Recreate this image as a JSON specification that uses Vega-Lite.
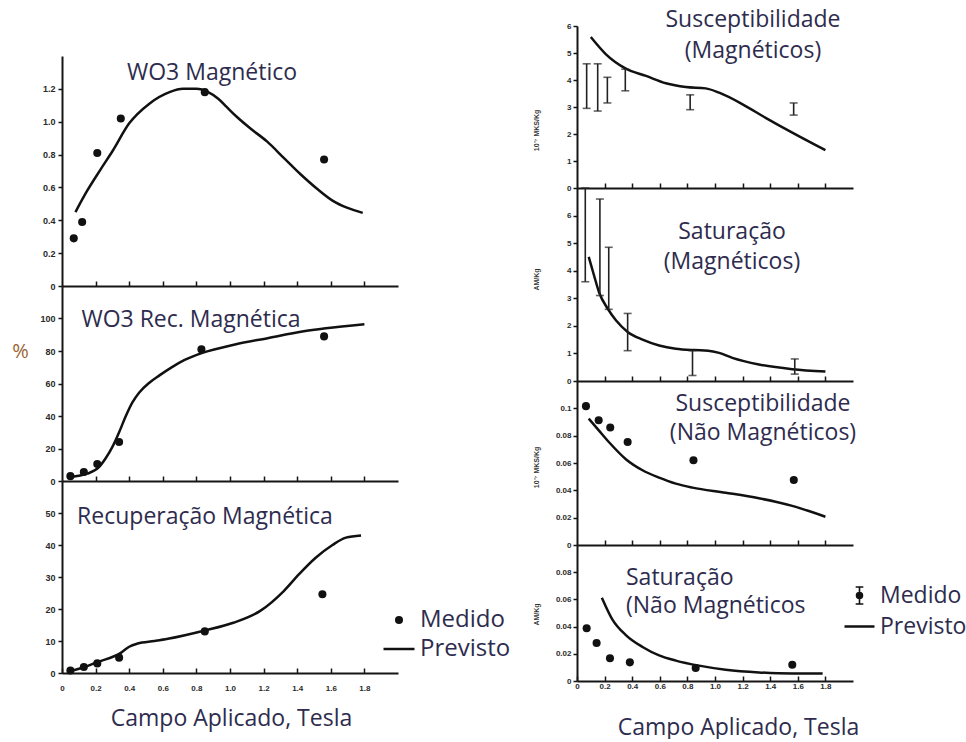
{
  "$schema": "https://vega.github.io/schema/vega-lite/v6.json",
  "background": "white",
  "padding": {"left": 11, "top": 9, "right": 0, "bottom": 0},
  "config": {
    "view": {"stroke": null},
    "font": "Open Sans",
    "axis": {
      "grid": false, "domainColor": "#151515", "domainWidth": 2,
      "tickColor": "#151515", "tickWidth": 1.5, "tickCount": 20,
      "labelFont": "Liberation Sans", "labelFontWeight": "bold", "labelColor": "#2a2a2a",
      "labelFlush": false, "labelOverlap": false,
      "titleFont": "Open Sans", "titleFontWeight": "normal", "titleColor": "#2e2c4e"
    },
    "title": {"font": "Open Sans", "fontSize": 23, "fontWeight": "normal", "color": "#2e2c4e", "offset": 0, "baseline": "top", "frame": "group"}
  },
  "datasets": {
    "l1_med": [
      {"campo": 0.07, "valor": 0.29}, {"campo": 0.12, "valor": 0.39}, {"campo": 0.21, "valor": 0.81},
      {"campo": 0.35, "valor": 1.02}, {"campo": 0.85, "valor": 1.18}, {"campo": 1.56, "valor": 0.77}
    ],
    "l1_prev": [
      {"campo": 0.08, "valor": 0.45}, {"campo": 0.15, "valor": 0.58}, {"campo": 0.23, "valor": 0.71},
      {"campo": 0.3, "valor": 0.82}, {"campo": 0.4, "valor": 0.99}, {"campo": 0.52, "valor": 1.11},
      {"campo": 0.64, "valor": 1.18}, {"campo": 0.72, "valor": 1.2}, {"campo": 0.8, "valor": 1.2},
      {"campo": 0.87, "valor": 1.18}, {"campo": 0.93, "valor": 1.14}, {"campo": 0.98, "valor": 1.09},
      {"campo": 1.04, "valor": 1.03}, {"campo": 1.12, "valor": 0.96}, {"campo": 1.22, "valor": 0.88},
      {"campo": 1.32, "valor": 0.78}, {"campo": 1.42, "valor": 0.68}, {"campo": 1.52, "valor": 0.59},
      {"campo": 1.61, "valor": 0.52}, {"campo": 1.7, "valor": 0.475}, {"campo": 1.79, "valor": 0.445}
    ],
    "l2_med": [
      {"campo": 0.05, "valor": 3}, {"campo": 0.13, "valor": 5.5}, {"campo": 0.21, "valor": 10.5},
      {"campo": 0.34, "valor": 24}, {"campo": 0.83, "valor": 81}, {"campo": 1.56, "valor": 89}
    ],
    "l2_prev": [
      {"campo": 0.05, "valor": 2.5}, {"campo": 0.15, "valor": 4.5}, {"campo": 0.22, "valor": 8.5},
      {"campo": 0.26, "valor": 14}, {"campo": 0.3, "valor": 21}, {"campo": 0.34, "valor": 30},
      {"campo": 0.38, "valor": 40}, {"campo": 0.42, "valor": 48.5}, {"campo": 0.46, "valor": 54.5},
      {"campo": 0.52, "valor": 60.5}, {"campo": 0.58, "valor": 65}, {"campo": 0.65, "valor": 69.8},
      {"campo": 0.73, "valor": 74.5}, {"campo": 0.84, "valor": 79}, {"campo": 1.03, "valor": 84},
      {"campo": 1.23, "valor": 88}, {"campo": 1.43, "valor": 92}, {"campo": 1.57, "valor": 94},
      {"campo": 1.8, "valor": 96.5}
    ],
    "l3_med": [
      {"campo": 0.05, "valor": 0.8, "serie": "Medido"}, {"campo": 0.13, "valor": 1.9, "serie": "Medido"},
      {"campo": 0.21, "valor": 3.0, "serie": "Medido"}, {"campo": 0.34, "valor": 4.8, "serie": "Medido"},
      {"campo": 0.85, "valor": 13, "serie": "Medido"}, {"campo": 1.55, "valor": 24.6, "serie": "Medido"}
    ],
    "l3_prev": [
      {"campo": 0.05, "valor": 0.6}, {"campo": 0.13, "valor": 1.8}, {"campo": 0.21, "valor": 3.4},
      {"campo": 0.35, "valor": 6.3}, {"campo": 0.4, "valor": 8.2}, {"campo": 0.45, "valor": 9.2},
      {"campo": 0.55, "valor": 10.0}, {"campo": 0.63, "valor": 10.7}, {"campo": 0.85, "valor": 13.3},
      {"campo": 1.02, "valor": 15.7}, {"campo": 1.18, "valor": 19.4}, {"campo": 1.32, "valor": 25.6},
      {"campo": 1.41, "valor": 30.8}, {"campo": 1.51, "valor": 36}, {"campo": 1.61, "valor": 40},
      {"campo": 1.69, "valor": 42.3}, {"campo": 1.78, "valor": 43}
    ],
    "r1_med": [
      {"campo": 0.07, "min": 2.95, "max": 4.6}, {"campo": 0.15, "min": 2.85, "max": 4.6},
      {"campo": 0.22, "min": 3.15, "max": 4.1}, {"campo": 0.35, "min": 3.6, "max": 4.4},
      {"campo": 0.82, "min": 2.9, "max": 3.45}, {"campo": 1.57, "min": 2.7, "max": 3.15}
    ],
    "r1_prev": [
      {"campo": 0.1, "valor": 5.59}, {"campo": 0.21, "valor": 4.95}, {"campo": 0.354, "valor": 4.42},
      {"campo": 0.5, "valor": 4.15}, {"campo": 0.644, "valor": 3.88}, {"campo": 0.788, "valor": 3.74},
      {"campo": 0.933, "valor": 3.69}, {"campo": 1.03, "valor": 3.53}, {"campo": 1.2, "valor": 3.1},
      {"campo": 1.367, "valor": 2.6}, {"campo": 1.56, "valor": 2.05}, {"campo": 1.8, "valor": 1.4}
    ],
    "r2_med": [
      {"campo": 0.06, "min": 3.6, "max": 7.0}, {"campo": 0.166, "min": 3.1, "max": 6.6},
      {"campo": 0.23, "min": 2.6, "max": 4.85}, {"campo": 0.367, "min": 1.1, "max": 2.45},
      {"campo": 0.837, "min": 0.2, "max": 1.1}, {"campo": 1.578, "min": 0.25, "max": 0.8}
    ],
    "r2_prev": [
      {"campo": 0.085, "valor": 4.5}, {"campo": 0.125, "valor": 3.8}, {"campo": 0.161, "valor": 3.2},
      {"campo": 0.222, "valor": 2.63}, {"campo": 0.282, "valor": 2.2}, {"campo": 0.367, "valor": 1.78},
      {"campo": 0.475, "valor": 1.5}, {"campo": 0.595, "valor": 1.29}, {"campo": 0.716, "valor": 1.17},
      {"campo": 0.85, "valor": 1.12}, {"campo": 0.95, "valor": 1.1}, {"campo": 1.03, "valor": 1.02},
      {"campo": 1.126, "valor": 0.84}, {"campo": 1.318, "valor": 0.6}, {"campo": 1.56, "valor": 0.43},
      {"campo": 1.8, "valor": 0.34}
    ],
    "r3_med": [
      {"campo": 0.065, "valor": 0.1016}, {"campo": 0.157, "valor": 0.0913}, {"campo": 0.241, "valor": 0.086},
      {"campo": 0.367, "valor": 0.0754}, {"campo": 0.844, "valor": 0.062}, {"campo": 1.571, "valor": 0.0476}
    ],
    "r3_prev": [
      {"campo": 0.085, "valor": 0.0925}, {"campo": 0.161, "valor": 0.0835}, {"campo": 0.234, "valor": 0.075},
      {"campo": 0.354, "valor": 0.0628}, {"campo": 0.475, "valor": 0.0547}, {"campo": 0.595, "valor": 0.0493},
      {"campo": 0.716, "valor": 0.0449}, {"campo": 0.837, "valor": 0.042}, {"campo": 1.077, "valor": 0.0383},
      {"campo": 1.318, "valor": 0.0342}, {"campo": 1.56, "valor": 0.0286}, {"campo": 1.8, "valor": 0.0207}
    ],
    "r4_med": [
      {"campo": 0.07, "valor": 0.0388}, {"campo": 0.142, "valor": 0.028},
      {"campo": 0.239, "valor": 0.0167}, {"campo": 0.383, "valor": 0.0137},
      {"campo": 0.86, "valor": 0.0095}, {"campo": 1.56, "valor": 0.012}
    ],
    "r4_prev": [
      {"campo": 0.18, "valor": 0.0613}, {"campo": 0.258, "valor": 0.045}, {"campo": 0.354, "valor": 0.0338},
      {"campo": 0.475, "valor": 0.025}, {"campo": 0.595, "valor": 0.0188}, {"campo": 0.716, "valor": 0.015},
      {"campo": 0.884, "valor": 0.0113}, {"campo": 1.077, "valor": 0.0083}, {"campo": 1.318, "valor": 0.0063},
      {"campo": 1.56, "valor": 0.0055}, {"campo": 1.78, "valor": 0.0055}
    ],
    "legenda_vazia": []
  },
  "bounds": "full",
  "spacing": 21,
  "resolve": {"scale": {"shape": "independent", "size": "independent", "strokeWidth": "independent"}, "legend": {"shape": "independent", "size": "independent", "strokeWidth": "independent"}},
  "hconcat": [
    {
      "bounds": "flush",
      "spacing": 0,
      "resolve": {"scale": {"shape": "independent", "size": "independent", "strokeWidth": "independent"}, "legend": {"shape": "independent", "size": "independent", "strokeWidth": "independent"}},
      "vconcat": [
        {"width": 336, "height": 30, "data": {"values": []}, "mark": "point"},
        {
          "width": 336, "height": 230,
          "title": {"text": "WO3 Magnético", "anchor": "middle", "dx": -18, "dy": 33},
          "layer": [
            {
              "data": {"name": "l1_prev"},
              "mark": {"type": "line", "color": "#111", "strokeWidth": 2.5, "interpolate": "monotone"},
              "encoding": {
                "x": {"field": "campo", "type": "quantitative", "scale": {"domain": [0, 2]},
                      "axis": {"values": [0.2, 0.4, 0.6, 0.8, 1.0, 1.2, 1.4, 1.6, 1.8], "labels": false, "tickSize": -5, "title": null}},
                "y": {"field": "valor", "type": "quantitative", "scale": {"domain": [0, 1.4]},
                      "axis": {"values": [0, 0.2, 0.4, 0.6, 0.8, 1.0, 1.2], "labelExpr": "datum.value == 0 ? '0' : format(datum.value, '.1f')", "tickSize": 4, "labelPadding": 3, "labelFontSize": 9, "title": null}}
              }
            },
            {
              "data": {"name": "l1_med"},
              "mark": {"type": "point", "filled": true, "size": 65, "color": "#111", "opacity": 1},
              "encoding": {
                "x": {"field": "campo", "type": "quantitative"},
                "y": {"field": "valor", "type": "quantitative"}
              }
            }
          ]
        },
        {
          "width": 336, "height": 195,
          "title": {"text": "WO3 Rec. Magnética", "anchor": "middle", "dx": -39, "dy": 50},
          "layer": [
            {
              "data": {"name": "l2_prev"},
              "mark": {"type": "line", "color": "#111", "strokeWidth": 2.5, "interpolate": "monotone"},
              "encoding": {
                "x": {"field": "campo", "type": "quantitative", "scale": {"domain": [0, 2]},
                      "axis": {"values": [0.2, 0.4, 0.6, 0.8, 1.0, 1.2, 1.4, 1.6, 1.8], "labels": false, "tickSize": -5, "title": null}},
                "y": {"field": "valor", "type": "quantitative", "scale": {"domain": [0, 120]},
                      "axis": {"values": [0, 20, 40, 60, 80, 100], "format": "d", "tickSize": 4, "labelPadding": 3, "labelFontSize": 9,
                               "title": "%", "titleAngle": 0, "titleX": -42, "titleY": 65, "titleAlign": "center", "titleBaseline": "middle",
                               "titleFontSize": 20, "titleColor": "#9a6534"}}
              }
            },
            {
              "data": {"name": "l2_med"},
              "mark": {"type": "point", "filled": true, "size": 65, "color": "#111", "opacity": 1},
              "encoding": {
                "x": {"field": "campo", "type": "quantitative"},
                "y": {"field": "valor", "type": "quantitative"}
              }
            }
          ]
        },
        {
          "width": 336, "height": 192,
          "title": {"text": "Recuperação Magnética", "anchor": "middle", "dx": -25, "dy": 52},
          "layer": [
            {
              "data": {"name": "l3_prev"},
              "mark": {"type": "line", "color": "#111", "strokeWidth": 2.5, "interpolate": "monotone"},
              "encoding": {
                "x": {"field": "campo", "type": "quantitative", "scale": {"domain": [0, 2]},
                      "axis": {"values": [0, 0.2, 0.4, 0.6, 0.8, 1.0, 1.2, 1.4, 1.6, 1.8], "labelExpr": "datum.value == 0 ? '0' : format(datum.value, '.1f')",
                               "tickSize": -5, "labelPadding": 16, "labelFontSize": 8,
                               "title": "Campo Aplicado, Tesla", "titleFontSize": 23, "titleX": 169, "titleY": 45, "titleAlign": "center", "titleBaseline": "middle"}},
                "y": {"field": "valor", "type": "quantitative", "scale": {"domain": [0, 60]},
                      "axis": {"values": [0, 10, 20, 30, 40, 50], "format": "d", "tickSize": 4, "labelPadding": 3, "labelFontSize": 9, "title": null}}
              }
            },
            {
              "data": {"name": "l3_med"},
              "mark": {"type": "point", "filled": true, "color": "#111", "stroke": "#111", "opacity": 1},
              "encoding": {
                "x": {"field": "campo", "type": "quantitative"},
                "y": {"field": "valor", "type": "quantitative"},
                "shape": {
                  "field": "serie", "type": "nominal",
                  "scale": {"domain": ["Medido", "Previsto"], "range": ["circle", "stroke"]},
                  "legend": {
                    "title": null, "orient": "none", "legendX": 320, "legendY": 127, "padding": 0,
                    "rowPadding": -3, "labelOffset": 4,
                    "labelFont": "Open Sans", "labelFontSize": 24, "labelColor": "#2e2c4e"
                  }
                },
                "size": {"field": "serie", "type": "ordinal", "scale": {"domain": ["Medido", "Previsto"], "range": [65, 961]}},
                "strokeWidth": {"field": "serie", "type": "ordinal", "scale": {"domain": ["Medido", "Previsto"], "range": [0, 2.5]}}
              }
            }
          ]
        }
      ]
    },
    {
      "bounds": "flush",
      "spacing": 0,
      "resolve": {"scale": {"shape": "independent", "size": "independent", "strokeWidth": "independent"}, "legend": {"shape": "independent", "size": "independent", "strokeWidth": "independent"}},
      "vconcat": [
        {
          "width": 276, "height": 162,
          "title": {"text": ["Susceptibilidade", "(Magnéticos)"], "anchor": "middle", "dx": 38, "dy": 45, "lineHeight": 31},
          "layer": [
            {
              "data": {"name": "r1_prev"},
              "mark": {"type": "line", "color": "#111", "strokeWidth": 2.5, "interpolate": "monotone"},
              "encoding": {
                "x": {"field": "campo", "type": "quantitative", "scale": {"domain": [0, 2]},
                      "axis": {"values": [0.2, 0.4, 0.6, 0.8, 1.0, 1.2, 1.4, 1.6, 1.8], "labels": false, "tickSize": -5, "title": null}},
                "y": {"field": "valor", "type": "quantitative", "scale": {"domain": [0, 6]},
                      "axis": {"values": [0, 1, 2, 3, 4, 5, 6], "format": "d", "tickSize": 4, "labelPadding": 2, "labelFontSize": 8,
                               "title": "10⁻⁷ MKS/Kg", "titleX": -41, "titleY": 104, "titleAlign": "center", "titleBaseline": "middle",
                               "titleFont": "Liberation Sans", "titleFontWeight": "bold", "titleFontSize": 7, "titleColor": "#333333"}}
              }
            },
            {
              "data": {"name": "r1_med"},
              "mark": {"type": "rule", "color": "#222", "strokeWidth": 1.6},
              "encoding": {
                "x": {"field": "campo", "type": "quantitative"},
                "y": {"field": "min", "type": "quantitative"},
                "y2": {"field": "max"}
              }
            },
            {
              "data": {"name": "r1_med"},
              "mark": {"type": "tick", "orient": "horizontal", "size": 8, "thickness": 1.6, "color": "#222"},
              "encoding": {
                "x": {"field": "campo", "type": "quantitative"},
                "y": {"field": "min", "type": "quantitative"}
              }
            },
            {
              "data": {"name": "r1_med"},
              "mark": {"type": "tick", "orient": "horizontal", "size": 8, "thickness": 1.6, "color": "#222"},
              "encoding": {
                "x": {"field": "campo", "type": "quantitative"},
                "y": {"field": "max", "type": "quantitative"}
              }
            }
          ]
        },
        {
          "width": 276, "height": 193,
          "title": {"text": ["Saturação", "(Magnéticos)"], "anchor": "middle", "dx": 17, "dy": 91, "lineHeight": 30},
          "layer": [
            {
              "data": {"name": "r2_prev"},
              "mark": {"type": "line", "color": "#111", "strokeWidth": 2.5, "interpolate": "monotone"},
              "encoding": {
                "x": {"field": "campo", "type": "quantitative", "scale": {"domain": [0, 2]},
                      "axis": {"values": [0.2, 0.4, 0.6, 0.8, 1.0, 1.2, 1.4, 1.6, 1.8], "labels": false, "tickSize": -5, "title": null}},
                "y": {"field": "valor", "type": "quantitative", "scale": {"domain": [0, 7]},
                      "axis": {"values": [0, 1, 2, 3, 4, 5, 6], "format": "d", "tickSize": 4, "labelPadding": 2, "labelFontSize": 8,
                               "title": "AM/Kg", "titleX": -41, "titleY": 91, "titleAlign": "center", "titleBaseline": "middle",
                               "titleFont": "Liberation Sans", "titleFontWeight": "bold", "titleFontSize": 7, "titleColor": "#333333"}}
              }
            },
            {
              "data": {"name": "r2_med"},
              "mark": {"type": "rule", "color": "#222", "strokeWidth": 1.6},
              "encoding": {
                "x": {"field": "campo", "type": "quantitative"},
                "y": {"field": "min", "type": "quantitative"},
                "y2": {"field": "max"}
              }
            },
            {
              "data": {"name": "r2_med"},
              "mark": {"type": "tick", "orient": "horizontal", "size": 8, "thickness": 1.6, "color": "#222"},
              "encoding": {
                "x": {"field": "campo", "type": "quantitative"},
                "y": {"field": "min", "type": "quantitative"}
              }
            },
            {
              "data": {"name": "r2_med"},
              "mark": {"type": "tick", "orient": "horizontal", "size": 8, "thickness": 1.6, "color": "#222"},
              "encoding": {
                "x": {"field": "campo", "type": "quantitative"},
                "y": {"field": "max", "type": "quantitative"}
              }
            }
          ]
        },
        {
          "width": 276, "height": 164,
          "title": {"text": ["Susceptibilidade", "(Não Magnéticos)"], "anchor": "middle", "dx": 48, "dy": 68, "lineHeight": 29},
          "layer": [
            {
              "data": {"name": "r3_prev"},
              "mark": {"type": "line", "color": "#111", "strokeWidth": 2.5, "interpolate": "monotone"},
              "encoding": {
                "x": {"field": "campo", "type": "quantitative", "scale": {"domain": [0, 2]},
                      "axis": {"values": [0.2, 0.4, 0.6, 0.8, 1.0, 1.2, 1.4, 1.6, 1.8], "labels": false, "tickSize": -5, "title": null}},
                "y": {"field": "valor", "type": "quantitative", "scale": {"domain": [0, 0.12]},
                      "axis": {"values": [0, 0.02, 0.04, 0.06, 0.08, 0.1], "format": "~g", "tickSize": 4, "labelPadding": 2, "labelFontSize": 8,
                               "title": "10⁻⁷ MKS/Kg", "titleX": -41, "titleY": 86, "titleAlign": "center", "titleBaseline": "middle",
                               "titleFont": "Liberation Sans", "titleFontWeight": "bold", "titleFontSize": 7, "titleColor": "#333333"}}
              }
            },
            {
              "data": {"name": "r3_med"},
              "mark": {"type": "point", "filled": true, "size": 65, "color": "#111", "opacity": 1},
              "encoding": {
                "x": {"field": "campo", "type": "quantitative"},
                "y": {"field": "valor", "type": "quantitative"}
              }
            }
          ]
        },
        {
          "width": 276, "height": 136,
          "title": {"text": ["Saturação", "(Não Magnéticos"], "anchor": "start", "dx": 49, "dy": 77, "lineHeight": 28},
          "layer": [
            {
              "data": {"name": "r4_prev"},
              "mark": {"type": "line", "color": "#111", "strokeWidth": 2.5, "interpolate": "monotone"},
              "encoding": {
                "x": {"field": "campo", "type": "quantitative", "scale": {"domain": [0, 2]},
                      "axis": {"values": [0, 0.2, 0.4, 0.6, 0.8, 1.0, 1.2, 1.4, 1.6, 1.8], "labelExpr": "datum.value == 0 ? '0' : format(datum.value, '.1f')",
                               "tickSize": -5, "labelPadding": 6, "labelFontSize": 8,
                               "title": "Campo Aplicado, Tesla", "titleFontSize": 23, "titleX": 161, "titleY": 46, "titleAlign": "center", "titleBaseline": "middle"}},
                "y": {"field": "valor", "type": "quantitative", "scale": {"domain": [0, 0.1]},
                      "axis": {"values": [0, 0.02, 0.04, 0.06, 0.08], "format": "~g", "tickSize": 4, "labelPadding": 2, "labelFontSize": 8,
                               "title": "AM/Kg", "titleX": -41, "titleY": 69, "titleAlign": "center", "titleBaseline": "middle",
                               "titleFont": "Liberation Sans", "titleFontWeight": "bold", "titleFontSize": 7, "titleColor": "#333333"}}
              }
            },
            {
              "data": {"name": "r4_med"},
              "mark": {"type": "point", "filled": true, "size": 65, "color": "#111", "opacity": 1},
              "encoding": {
                "x": {"field": "campo", "type": "quantitative"},
                "y": {"field": "valor", "type": "quantitative"}
              }
            },
            {
              "data": {"name": "legenda_vazia"},
              "mark": {"type": "point", "filled": true, "color": "#111", "stroke": "#111", "opacity": 1},
              "encoding": {
                "x": {"field": "campo", "type": "quantitative"},
                "y": {"field": "valor", "type": "quantitative"},
                "shape": {
                  "field": "serie", "type": "nominal",
                  "scale": {"domain": ["Medido", "Previsto"], "range": ["M0,-1L0,1M-0.45,-1L0.45,-1M-0.45,1L0.45,1M0.35,0A0.35,0.35,0,1,1,-0.35,0A0.35,0.35,0,1,1,0.35,0Z", "stroke"]},
                  "legend": {
                    "title": null, "orient": "none", "legendX": 266, "legendY": 39, "padding": 0,
                    "rowPadding": 2, "labelOffset": 4,
                    "labelFont": "Open Sans", "labelFontSize": 23, "labelColor": "#2e2c4e"
                  }
                },
                "size": {"field": "serie", "type": "ordinal", "scale": {"domain": ["Medido", "Previsto"], "range": [289, 900]}},
                "strokeWidth": {"field": "serie", "type": "ordinal", "scale": {"domain": ["Medido", "Previsto"], "range": [1.6, 2.5]}}
              }
            }
          ]
        }
      ]
    }
  ]
}
